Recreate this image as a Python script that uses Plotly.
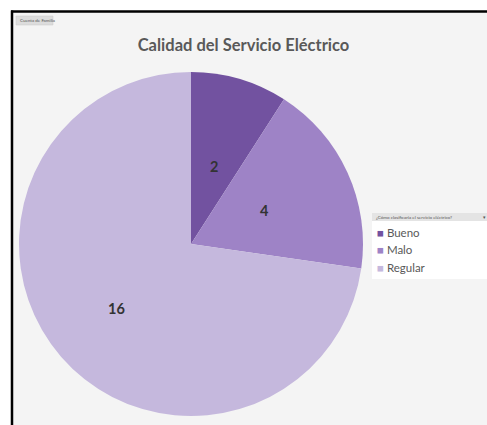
import math
import plotly.graph_objects as go

# Survey answers: "¿Cómo clasificaría el servicio eléctrico?"
categorias = ["Bueno", "Malo", "Regular"]
familias = [2, 4, 16]
colores = ["#7252a0", "#9e83c6", "#c5b8dd"]

W, H = 487, 425

# pie placement in pixels
CX, CY, R = 191, 244, 172


def px(x):
    return x / W


def py(y):
    return 1 - y / H


fig = go.Figure(
    go.Pie(
        labels=categorias,
        values=familias,
        sort=False,
        direction="clockwise",
        rotation=0,
        marker=dict(colors=colores, line=dict(width=0)),
        textinfo="none",
        hoverinfo="label+value",
        showlegend=False,
        domain=dict(x=[px(CX - R), px(CX + R)], y=[py(CY + R), py(CY - R)]),
    )
)

shapes = [
    # chart area background
    dict(type="rect", xref="paper", yref="paper", x0=px(12), x1=1, y0=0, y1=py(12),
         fillcolor="#f4f4f4", line=dict(width=0), layer="below"),
    # frame: top and left edges
    dict(type="line", xref="paper", yref="paper", x0=px(11), x1=1, y0=py(11.5), y1=py(11.5),
         line=dict(color="#000000", width=2.5)),
    dict(type="line", xref="paper", yref="paper", x0=px(12), x1=px(12), y0=0, y1=py(10.5),
         line=dict(color="#000000", width=2.5)),
    # pivot field button
    dict(type="rect", xref="paper", yref="paper", x0=px(16), x1=px(53), y0=py(25), y1=py(16),
         fillcolor="#dcdcdc", line=dict(color="#c8c8c8", width=0.5)),
    # legend panel and its field header
    dict(type="rect", xref="paper", yref="paper", x0=px(372), x1=1, y0=py(279), y1=py(213),
         fillcolor="#ffffff", line=dict(width=0)),
    dict(type="rect", xref="paper", yref="paper", x0=px(372), x1=1, y0=py(221), y1=py(213),
         fillcolor="#e4e4e4", line=dict(width=0)),
]

annotations = [
    dict(text="Cuenta de Familia", xref="paper", yref="paper", x=px(18), y=py(20.5),
         xanchor="left", yanchor="middle", showarrow=False,
         font=dict(family="Lato", size=4.5, color="#555555")),
    dict(text="¿Cómo clasificaría el servicio eléctrico?", xref="paper", yref="paper",
         x=px(374), y=py(217), xanchor="left", yanchor="middle", showarrow=False,
         font=dict(family="Lato", size=4.5, color="#555555")),
    dict(text="▾", xref="paper", yref="paper", x=px(484), y=py(217), xanchor="center",
         yanchor="middle", showarrow=False, font=dict(family="DejaVu Sans", size=5, color="#555555")),
]

# value labels placed on each slice's bisector
total = sum(familias)
acum = 0
for v in familias:
    mid = (acum + v / 2) / total * 2 * math.pi
    acum += v
    frac = 0.47 if v / total < 0.5 else 0.57
    lx = CX + frac * R * math.sin(mid)
    ly = CY - frac * R * math.cos(mid)
    annotations.append(dict(
        text=f"<b>{v}</b>", xref="paper", yref="paper", x=px(lx), y=py(ly),
        xanchor="center", yanchor="middle", showarrow=False,
        font=dict(family="Lato", size=14.5, color="#333333")))

# compact legend entries
leg_y = [232, 249, 267]
for nombre, color, yy in zip(categorias, colores, leg_y):
    annotations.append(dict(
        text=f"<span style='color:{color}'>■</span> {nombre}", xref="paper", yref="paper",
        x=px(375), y=py(yy), xanchor="left", yanchor="middle", showarrow=False,
        font=dict(family="Lato", size=11.5, color="#595959")))

fig.update_layout(
    width=W,
    height=H,
    margin=dict(l=0, r=0, t=0, b=0),
    paper_bgcolor="#ffffff",
    plot_bgcolor="#ffffff",
    title=dict(text="<b>Calidad del Servicio Eléctrico</b>", x=0.5, xanchor="center",
               y=py(45), yanchor="middle", yref="paper",
               font=dict(family="Lato", size=16.5, color="#595959")),
    shapes=shapes,
    annotations=annotations,
    showlegend=False,
)

fig.write_html("out.html")
